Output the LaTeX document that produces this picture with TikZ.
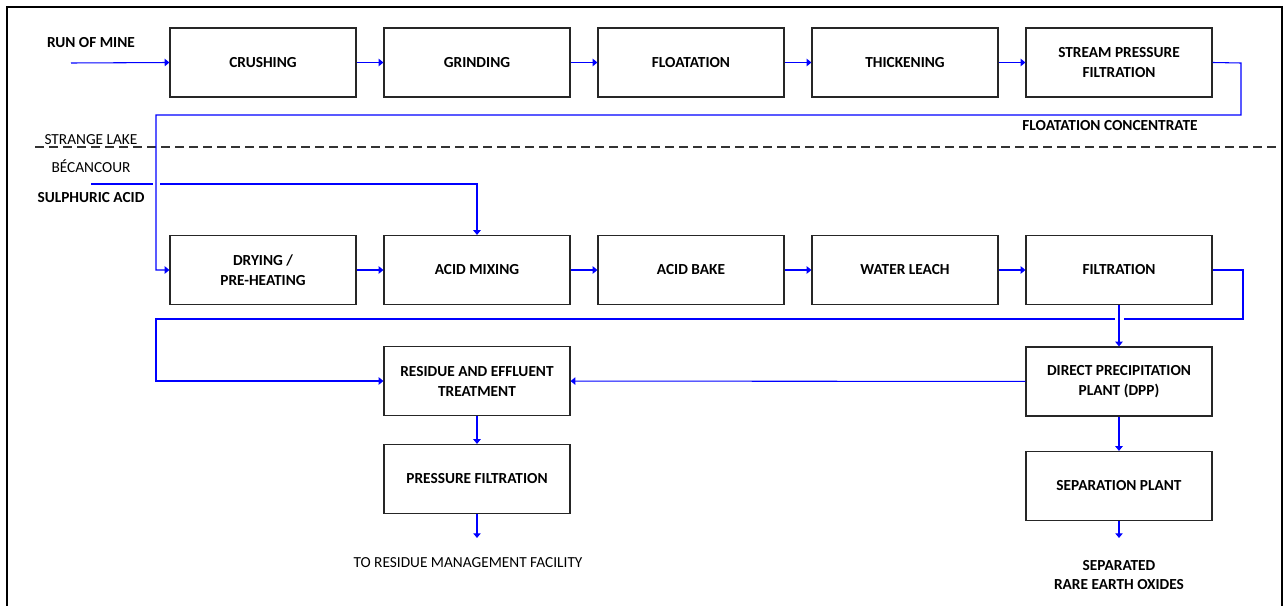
\documentclass[tikz,border=0pt]{standalone}
\usepackage{fontspec}
\setmainfont{Carlito}
\usetikzlibrary{arrows.meta}
\begin{document}
\begin{tikzpicture}[x=0.75pt,y=-0.75pt,
  box/.style={draw=black!85,line width=0.9pt,minimum width=139.5pt,minimum height=51.75pt,
    inner sep=0pt,align=center,font=\fontsize{11.5}{15}\selectfont\bfseries},
  flow/.style={draw=blue,line width=0.8pt,-{Triangle[length=3.5pt,width=5.5pt]}},
  line/.style={draw=blue,line width=0.8pt},
  lbl/.style={inner sep=0pt,align=center,font=\fontsize{11.5}{14.3}\selectfont\bfseries},
  plain/.style={inner sep=0pt,align=center,font=\fontsize{11.5}{14.3}\selectfont}]
\useasboundingbox (0,0) rectangle (1285,606);
\draw[line width=1.5pt] (7,612) -- (7,7) -- (1282,7) -- (1282,612);
% row 1
\node[box] (crush) at (263,62.5) {CRUSHING};
\node[box] (grind) at (477,62.5) {GRINDING};
\node[box] (flot) at (691,62.5) {FLOATATION};
\node[box] (thick) at (905,62.5) {THICKENING};
\node[box] (spf) at (1119,62.5) {STREAM PRESSURE\\FILTRATION};
% row 2
\node[box] (dry) at (263,270) {DRYING /\\PRE-HEATING};
\node[box] (amix) at (477,270) {ACID MIXING};
\node[box] (abake) at (691,270) {ACID BAKE};
\node[box] (wleach) at (905,270) {WATER LEACH};
\node[box] (filt) at (1119,270) {FILTRATION};
% lower
\node[box] (res) at (477,381) {RESIDUE AND EFFLUENT\\TREATMENT};
\node[box] (pf) at (477,479) {PRESSURE FILTRATION};
\node[box] (dpp) at (1119,381.5) {DIRECT PRECIPITATION\\PLANT (DPP)};
\node[box] (sep) at (1119,486) {SEPARATION PLANT};
% labels
\node[lbl] (rom) at (91,43) {RUN OF MINE};
\node[lbl] (fc) at (1110,126) {FLOATATION CONCENTRATE};
\node[plain] (sl) at (91,140) {STRANGE LAKE};
\node[plain] (bec) at (91,166) {BÉCANCOUR};
\node[lbl] (sul) at (91,198) {SULPHURIC ACID};
\node[plain] (trmf) at (468,563) {TO RESIDUE MANAGEMENT FACILITY};
\node[lbl] (sreo) at (1119,575) {SEPARATED\\RARE EARTH OXIDES};
% dashed divider
\draw[black!80,line width=0.8pt,dash pattern=on 6.5pt off 4pt] (35,147) -- (1278,147);
% coordinates
\coordinate (romin) at (71,63);
\coordinate (sain) at (91,184);
\coordinate (a1) at (1241,63);
\coordinate (a2) at (1241,115);
\coordinate (a3) at (156,115);
\coordinate (b1) at (1243,270);
\coordinate (b2) at (1243,319);
\coordinate (b3) at (156,319);
\coordinate (pfout) at (477,538);
\coordinate (sepout) at (1119,538);
% row 1 flows
\draw[flow] (romin) -- (crush.west);
\draw[flow] (crush) -- (grind);
\draw[flow] (grind) -- (flot);
\draw[flow] (flot) -- (thick);
\draw[flow] (thick) -- (spf);
% sulphuric acid
\draw[flow] (sain) -| (amix.north);
\draw[white,line width=3pt] (152.5,184) -- (159.5,184);
% floatation concentrate
\draw[flow] (spf.east) -- (a1) -- (a2) -- (a3) |- (dry.west);
% row 2 flows
\draw[flow] (dry) -- (amix);
\draw[flow] (amix) -- (abake);
\draw[flow] (abake) -- (wleach);
\draw[flow] (wleach) -- (filt);
% filtration return
\draw[flow] (filt.east) -- (b1) -- (b2) -- (b3) |- (res.west);
\draw[white,line width=3pt] (1114.5,319) -- (1123.5,319);
\draw[flow] (filt) -- (dpp);
\draw[flow] (dpp) -- (res);
\draw[flow] (res) -- (pf);
\draw[flow] (pf.south) -- (pfout);
\draw[flow] (dpp) -- (sep);
\draw[flow] (sep.south) -- (sepout);
\end{tikzpicture}
\end{document}
